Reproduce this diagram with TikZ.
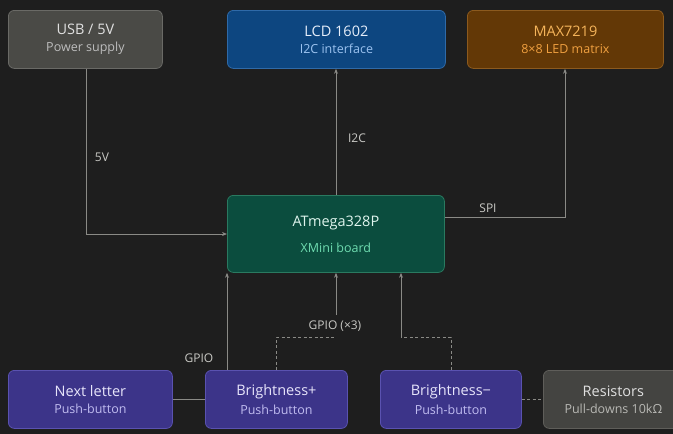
\documentclass[tikz,border=0pt]{standalone}
\usepackage{fontspec}
\setmainfont{Open Sans}
\usetikzlibrary{arrows.meta}
\definecolor{bg}{HTML}{1E1E1E}
\definecolor{ln}{HTML}{8A8A86}
\definecolor{lab}{HTML}{C8C8C4}
\definecolor{usbF}{HTML}{4A4A46}\definecolor{usbD}{HTML}{6A6A66}
\definecolor{lcdF}{HTML}{0D4680}\definecolor{lcdD}{HTML}{2F6AA8}
\definecolor{maxF}{HTML}{633806}\definecolor{maxD}{HTML}{8C5A1E}
\definecolor{atF}{HTML}{0B4D3E}\definecolor{atD}{HTML}{2A7A60}
\definecolor{puF}{HTML}{3C3489}\definecolor{puD}{HTML}{5A52B0}
\definecolor{reF}{HTML}{444441}\definecolor{reD}{HTML}{5F5E5A}
\newcommand{\mk}[8]{%
  \node[draw=#6,fill=#7,rounded corners=6pt,line width=0.8pt,minimum width=#3pt,minimum height=#4pt,inner sep=0pt,anchor=north west] (#5) at (#1,#2) {};
  \node[align=center,inner sep=0pt] (#5t) at (#5.center) {#8};}
\newcommand{\tx}[4]{{\color[HTML]{#1}\fontsize{14.5}{17}\selectfont #3}\\[5pt]{\color[HTML]{#2}\fontsize{12.5}{14}\selectfont #4}}
\begin{document}
\begin{tikzpicture}[x=1pt,y=-1pt,
  conn/.style={draw=ln,line width=0.8pt},
  arr/.style={conn,-{Stealth[length=5pt,width=4pt]}},
  dsh/.style={conn,dash pattern=on 3pt off 2.5pt},
  lbl/.style={text=lab,font=\fontsize{12}{14}\selectfont}]
\fill[bg] (0,0) rectangle (673,434);
\useasboundingbox (0,0) rectangle (673,434);
\mk{8}{10}{154}{58}{usb}{usbD}{usbF}{\tx{E0E0E0}{BDBDBD}{USB / 5V}{Power supply}}
\mk{227}{10}{218}{58}{lcd}{lcdD}{lcdF}{\tx{E6EEFA}{9CC3F0}{LCD 1602}{I2C interface}}
\mk{467}{10}{196}{58}{max}{maxD}{maxF}{\tx{F5B45A}{F0A040}{MAX7219}{8×8 LED matrix}}
\mk{227}{195}{217}{77}{at}{atD}{atF}{{\color[HTML]{E0F5EE}\fontsize{14.5}{17}\selectfont ATmega328P}\\[12pt]{\color[HTML]{6FDCB0}\fontsize{12.5}{14}\selectfont XMini board}}
\mk{8}{370}{164}{58}{nxt}{puD}{puF}{\tx{E6E4FA}{C0BCF0}{Next letter}{Push-button}}
\mk{205}{370}{142}{58}{bp}{puD}{puF}{\tx{E6E4FA}{C0BCF0}{Brightness+}{Push-button}}
\mk{380}{370}{141}{58}{bm}{puD}{puF}{\tx{E6E4FA}{C0BCF0}{Brightness−}{Push-button}}
\mk{543}{370}{140}{58}{res}{reD}{reF}{\tx{E0E0E0}{B8B8B4}{Resistors}{Pull-downs 10kΩ}}
% connectors
\draw[arr] (usb.south -| 86,0) |- (at.west |- 0,234);
\draw[arr] (at.north -| 336,0) -- (lcd.south -| 336,0);
\draw[arr] (at.east |- 0,217) -| (max.south -| 565,0);
\draw[arr] (bp.north -| 227,0) -- (at.south -| 227,0);
\coordinate (g3) at (336,315);
\coordinate (j1) at (336,337);
\coordinate (j2) at (401,337);
\draw[arr] (g3) -- (at.south -| 336,0);
\draw[dsh] (bp.north -| 276,0) |- (j1);
\draw[dsh] (bm.north -| 451,0) |- (j2);
\draw[arr] (j2) -- (at.south -| 401,0);
\draw[dsh] (bm.east |- 0,399) -- (res.west |- 0,399);
\draw[conn] (nxt.east |- 0,399) -- (bp.west |- 0,399);
% labels
\node[lbl] (l1) at (102,157) {5V};
\node[lbl] (l2) at (357,138) {I2C};
\node[lbl] (l3) at (488,208) {SPI};
\node[lbl] (l4) at (199,358) {GPIO};
\node[lbl] (l5) at (335,326) {GPIO (×3)};
\end{tikzpicture}
\end{document}
